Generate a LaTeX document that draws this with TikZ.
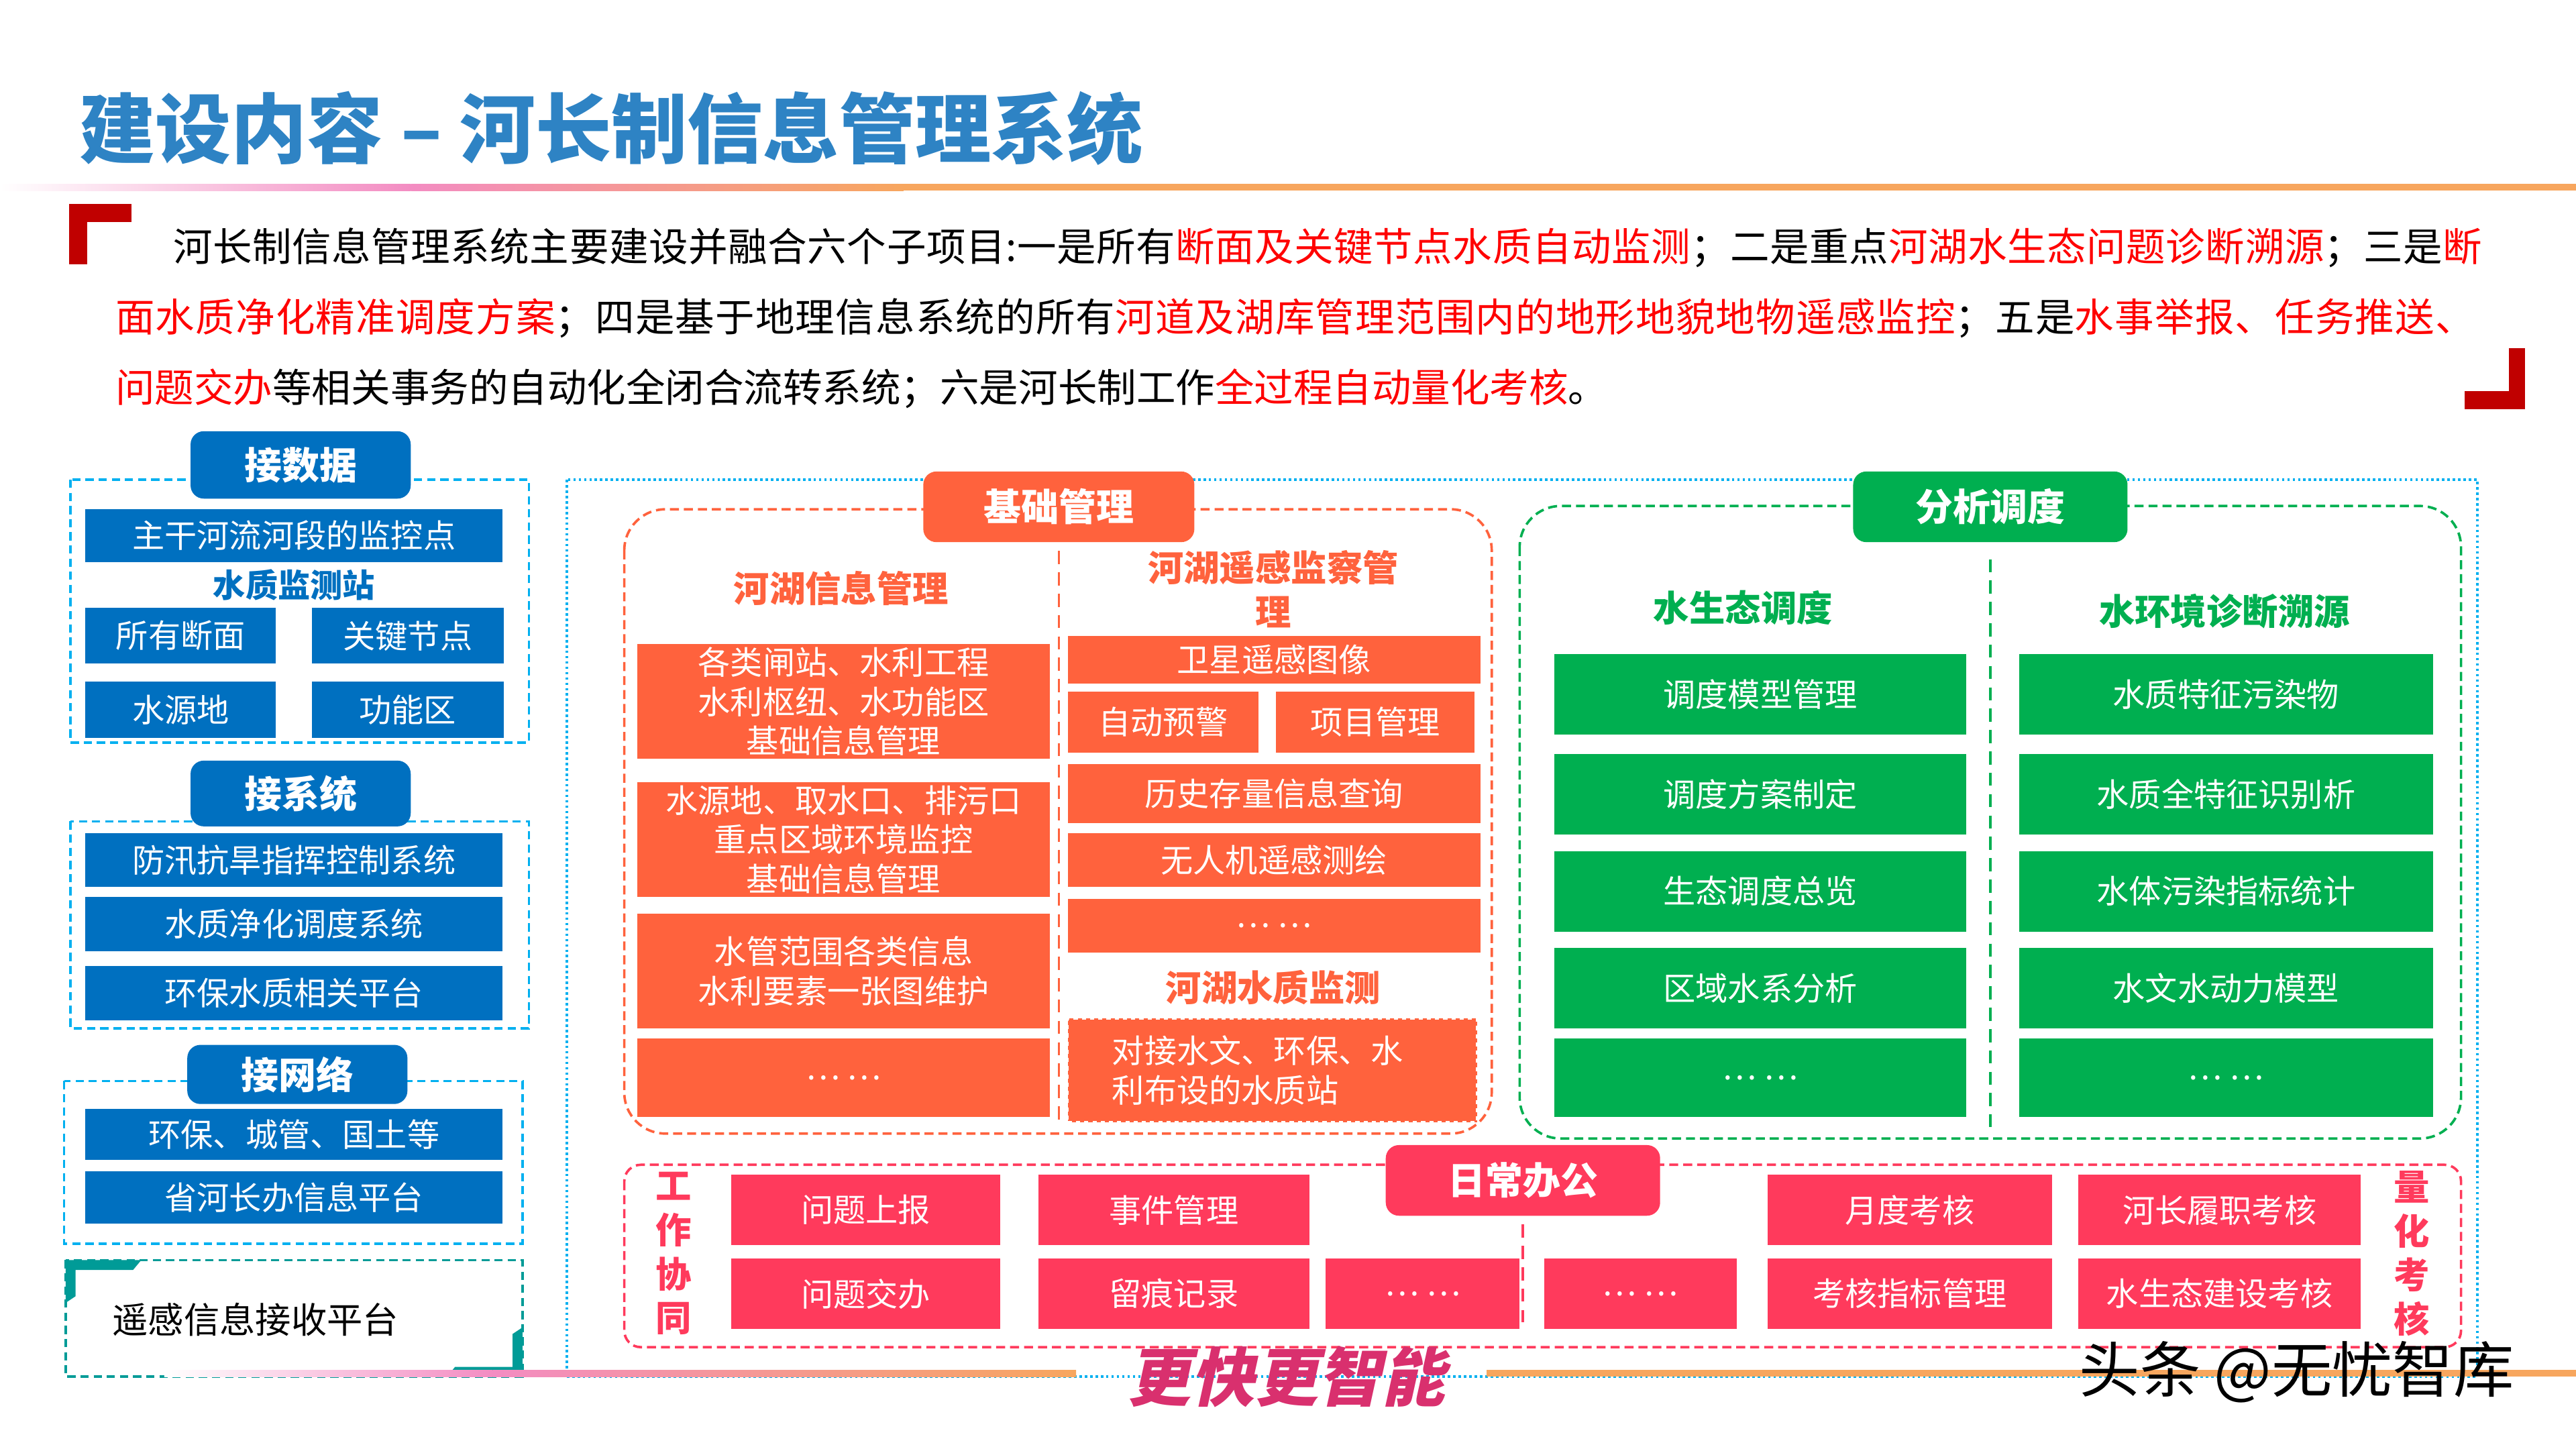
\documentclass[tikz,border=0pt]{standalone}
\usepackage{fontspec}
\setmainfont{Noto Sans CJK SC}
\newfontfamily\slantfont[FakeSlant=0.22]{Noto Sans CJK SC}
\usetikzlibrary{positioning}

\definecolor{titleblue}{HTML}{2E83C4}
\definecolor{darkblue}{HTML}{0070C0}
\definecolor{skyblue}{HTML}{00B0F0}
\definecolor{baseorange}{HTML}{FF623D}
\definecolor{anagreen}{HTML}{00AF50}
\definecolor{officepink}{HTML}{FF3A5C}
\definecolor{rsteal}{HTML}{009B97}
\definecolor{bracketred}{HTML}{C00000}
\definecolor{hilite}{HTML}{FF0000}
\definecolor{slogan}{HTML}{D9306E}
\definecolor{linepink}{HTML}{F38CC2}
\definecolor{lineorange}{HTML}{F7A65E}

\begin{document}
\begin{tikzpicture}[
    x=0.2mm, y=-0.2mm,
    wh/.style 2 args={minimum width=#1*0.2mm, minimum height=#2*0.2mm},
    cell/.style={inner sep=0pt, text=white, align=center, font=\fontsize{11.2}{13.6}\selectfont},
    bluecell/.style={cell, fill=darkblue},
    orangecell/.style={cell, fill=baseorange},
    greencell/.style={cell, fill=anagreen},
    pinkcell/.style={cell, fill=officepink},
    tab/.style={rounded corners=1.6mm, inner sep=0pt, text=white, font=\bfseries\fontsize{13}{15}\selectfont},
    heading/.style={inner sep=0pt, align=center, font=\bfseries\fontsize{12.4}{15.3}\selectfont},
    intro/.style={anchor=base west, inner sep=0pt, font={\fontsize{13.6}{16}\selectfont\addfontfeature{LetterSpace=#1}}},
    skydash/.style={draw=skyblue, line width=0.3mm, dash pattern=on 1mm off 0.6mm},
    groupdash/.style={line width=0.3mm, dash pattern=on 1.1mm off 0.6mm},
    divider/.style={line width=0.3mm, dash pattern=on 1.6mm off 1mm},
]
\useasboundingbox (0,0) rectangle (1568,882);

% Title and rule
\node[anchor=west, inner sep=0pt, text=titleblue, font=\bfseries\fontsize{26.3}{30}\selectfont] (title) at (48,78) {建设内容 – 河长制信息管理系统};
\shade[left color=white, right color=linepink] (0,112) rectangle (250,116);
\shade[left color=linepink, right color=lineorange] (250,112) rectangle (550,116);
\fill[lineorange] (550,112) rectangle (1568,116);

% Corner brackets
\fill[bracketred] (42,124) rectangle (53,161);
\fill[bracketred] (42,124) rectangle (80,135);
\fill[bracketred] (1527,212) rectangle (1537,249);
\fill[bracketred] (1500,238) rectangle (1537,249);

% Summary text
\node[intro=1] (intro1) at (105,159) {河长制信息管理系统主要建设并融合六个子项目:一是所有\textcolor{hilite}{断面及关键节点水质自动监测}；二是重点\textcolor{hilite}{河湖水生态问题诊断溯源}；三是\textcolor{hilite}{断}};
\node[intro=2] (intro2) at (70,202) {\textcolor{hilite}{面水质净化精准调度方案}；四是基于地理信息系统的所有\textcolor{hilite}{河道及湖库管理范围内的地形地貌地物遥感监控}；五是\textcolor{hilite}{水事举报、任务推送、}};
\node[intro=0] (intro3) at (70,245) {\textcolor{hilite}{问题交办}等相关事务的自动化全闭合流转系统；六是河长制工作\textcolor{hilite}{全过程自动量化考核}。};

% Data sources
\draw[skydash] (43,292) rectangle (322,452);
\node[tab, fill=darkblue, wh={134}{41}] (getdata) at (183,283) {接数据};
\node[bluecell, wh={254}{32}] (trunk) at (179,326) {主干河流河段的监控点};
\node[heading, text=darkblue, font=\bfseries\fontsize{11.2}{13.6}\selectfont] (station) at (179,356) {水质监测站};
\node[bluecell, wh={116}{34}] (allsec) at (110,387) {所有断面};
\node[bluecell, wh={117}{34}, right=4.2mm of allsec] (keynode) {关键节点};
\node[bluecell, wh={116}{34}] (source) at (110,432) {水源地};
\node[bluecell, wh={117}{34}, right=4.2mm of source] (zone) {功能区};

% Systems
\draw[skydash] (43,500) rectangle (322,626);
\node[tab, fill=darkblue, wh={134}{40}] (getsys) at (183,483) {接系统};
\node[bluecell, wh={254}{33}] (flood) at (179,523.5) {防汛抗旱指挥控制系统};
\node[bluecell, wh={254}{33}] (purify) at (179,562.5) {水质净化调度系统};
\node[bluecell, wh={254}{33}] (envplat) at (179,604.5) {环保水质相关平台};

% Networks
\draw[skydash] (39,658) rectangle (318,757);
\node[tab, fill=darkblue, wh={134}{36}] (getnet) at (181,654) {接网络};
\node[bluecell, wh={254}{31}] (depts) at (179,690.5) {环保、城管、国土等};
\node[bluecell, wh={254}{32}] (office) at (179,729) {省河长办信息平台};

% Remote sensing receiver
\draw[rsteal, line width=0.3mm, dash pattern=on 1mm off 0.6mm] (40,767) rectangle (318,838);
\fill[rsteal] (40,767) -- (86,767) -- (81,773) -- (46,773) -- (46,789) -- (40,793) -- cycle;
\fill[rsteal] (318,838) -- (272,838) -- (277,832) -- (312,832) -- (312,812) -- (318,808) -- cycle;
\node[anchor=west, inner sep=0pt, font=\fontsize{12.4}{15}\selectfont] (rsrecv) at (68,803) {遥感信息接收平台};

% Platform frame
\draw[skyblue, line width=0.3mm, dash pattern=on 0.3mm off 0.35mm] (345,292) rectangle (1508,838);

% Base management
\draw[groupdash, draw=baseorange, rounded corners=5mm] (380,310) rectangle (908,690);
\node[tab, fill=baseorange, wh={165}{43}] (basemgmt) at (644.5,308.5) {基础管理};
\draw[divider, baseorange] ([yshift=-1mm]basemgmt.south) -- (basemgmt.south |- 0,686);
\node[heading, text=baseorange] (riverinfo) at (512,358) {河湖信息管理};
\node[heading, text=baseorange] (rsmgmt) at (775,358.5) {河湖遥感监察管\\理};

\node[orangecell, wh={251}{70}] (gates) at (513.5,427) {各类闸站、水利工程\\水利枢纽、水功能区\\基础信息管理};
\node[orangecell, wh={251}{70}] (outlets) at (513.5,511) {水源地、取水口、排污口\\重点区域环境监控\\基础信息管理};
\node[orangecell, wh={251}{70}] (onemap) at (513.5,591) {水管范围各类信息\\水利要素一张图维护};
\node[orangecell, wh={251}{48}] (basemore) at (513.5,656) {… …};

\node[orangecell, wh={251}{29}] (satimg) at (775.5,401.5) {卫星遥感图像};
\node[orangecell, wh={116}{37}] (alert) at (708,439.5) {自动预警};
\node[orangecell, wh={121}{37}, right=2mm of alert] (project) {项目管理};
\node[orangecell, wh={251}{36}] (history) at (775.5,483) {历史存量信息查询};
\node[orangecell, wh={251}{33}] (uav) at (775.5,523.5) {无人机遥感测绘};
\node[orangecell, wh={251}{33}] (rsmore) at (775.5,563.5) {… …};
\node[heading, text=baseorange] (wqmon) at (775,601) {河湖水质监测};
\node[orangecell, wh={249}{63}, text width=39mm, align=left, draw=white, line width=0.25mm, dash pattern=on 0.5mm off 0.5mm] (wqsite) at (774.5,651.5) {对接水文、环保、水\\利布设的水质站};

% Analysis and dispatch
\draw[groupdash, draw=anagreen, rounded corners=5mm] (925,308) rectangle (1498,693);
\node[tab, fill=anagreen, wh={167}{43}] (analysis) at (1211.5,308.5) {分析调度};
\draw[divider, anagreen] ([yshift=-2mm]analysis.south) -- (analysis.south |- 0,686);
\node[heading, text=anagreen] (ecodisp) at (1061,370) {水生态调度};
\node[heading, text=anagreen] (tracing) at (1354,372) {水环境诊断溯源};

\node[greencell, wh={251}{49}] (model) at (1071.5,422.5) {调度模型管理};
\node[greencell, wh={251}{49}] (plan) at (1071.5,483.5) {调度方案制定};
\node[greencell, wh={251}{49}] (overview) at (1071.5,542.5) {生态调度总览};
\node[greencell, wh={251}{49}] (basin) at (1071.5,601.5) {区域水系分析};
\node[greencell, wh={251}{48}] (ecomore) at (1071.5,656) {… …};

\node[greencell, wh={252}{49}] (pollutant) at (1355,422.5) {水质特征污染物};
\node[greencell, wh={252}{49}] (features) at (1355,483.5) {水质全特征识别析};
\node[greencell, wh={252}{49}] (indexstat) at (1355,542.5) {水体污染指标统计};
\node[greencell, wh={252}{49}] (hydro) at (1355,601.5) {水文水动力模型};
\node[greencell, wh={252}{48}] (tracemore) at (1355,656) {… …};

% Daily office
\draw[groupdash, draw=officepink, rounded corners=2mm] (380,709) rectangle (1498,820);
\node[tab, fill=officepink, wh={167}{43}] (daily) at (927,718.5) {日常办公};
\draw[divider, officepink] ([yshift=-1mm]daily.south) -- (daily.south |- 0,805);
\node[heading, text=officepink] (collab) at (410,763) {工\\作\\协\\同};
\node[heading, text=officepink] (quant) at (1468,763) {量\\化\\考\\核};

\node[pinkcell, wh={164}{43}] (report) at (527,736.5) {问题上报};
\node[pinkcell, wh={165}{43}] (event) at (714.5,736.5) {事件管理};
\node[pinkcell, wh={164}{43}] (assign) at (527,787.5) {问题交办};
\node[pinkcell, wh={165}{43}] (trace) at (714.5,787.5) {留痕记录};
\node[pinkcell, wh={118}{43}] (dailymore) at (866,787.5) {… …};
\node[pinkcell, wh={117}{43}] (officemore) at (998.5,787.5) {… …};
\node[pinkcell, wh={173}{43}] (monthly) at (1162.5,736.5) {月度考核};
\node[pinkcell, wh={172}{43}] (chief) at (1351,736.5) {河长履职考核};
\node[pinkcell, wh={173}{43}] (indexmgmt) at (1162.5,787.5) {考核指标管理};
\node[pinkcell, wh={172}{43}] (ecoassess) at (1351,787.5) {水生态建设考核};

% Bottom rule and slogan
\shade[left color=white, right color=linepink] (100,834) rectangle (300,838);
\shade[left color=linepink, right color=lineorange] (300,834) rectangle (655,838);
\fill[lineorange] (905,834) rectangle (1568,838);
\node[inner sep=0pt, text=slogan, font=\slantfont\bfseries\fontsize{22}{26}\selectfont] (motto) at (783,838) {更快更智能};
\node[inner sep=0pt, font=\fontsize{21}{25}\selectfont] (mark) at (1398,835) {头条 @无忧智库};

\end{tikzpicture}
\end{document}
